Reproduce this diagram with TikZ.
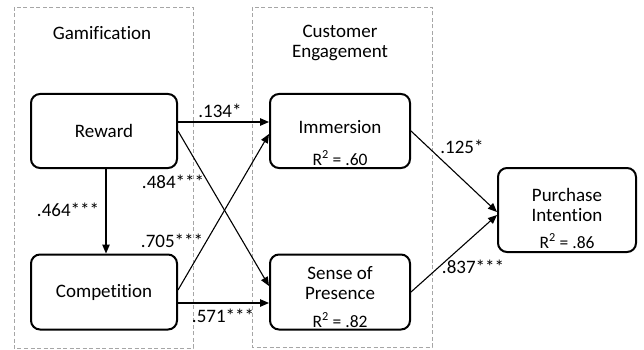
\documentclass[tikz,border=0pt]{standalone}
\usepackage{fontspec}
\setmainfont[Ligatures=NoCommon]{Carlito}
\usetikzlibrary{arrows.meta}

\begin{document}
\begin{tikzpicture}[x=1pt,y=-1pt,
    box/.style={draw,line width=2pt,rounded corners=9pt,inner sep=0pt},
    group/.style={draw=black!35,line width=0.9pt,dash pattern=on 4pt off 2.5pt},
    link/.style={-{Triangle[length=9pt,width=7.5pt]},line width=1.1pt},
    txt/.style={font=\fontsize{19}{20}\selectfont,inner sep=0pt,align=center},
    rsq/.style={font=\fontsize{17.5}{20}\selectfont,inner sep=0pt}]

      \useasboundingbox (0,0) rectangle (644,350);

      \draw[group] (14,7) rectangle (193,348);
      \draw[group] (252,7) rectangle (432,347);
      \node[txt] (gam) at (102,33) {Gamification};
      \node[txt] (eng) at (340,43) {Customer\\Engagement};

      \node[box,txt,minimum width=146pt,minimum height=74pt] (rew) at (104,131) {Reward};
      \node[box,txt,minimum width=146pt,minimum height=75pt] (comp) at (104,292) {Competition};

      \node[box,minimum width=140pt,minimum height=74pt] (imm) at (340,131) {};
      \node[txt] (immtxt) at (340,127) {Immersion};
      \node[rsq] (immrsq) at (340,158) {R\textsuperscript{2} = .60};

      \node[box,minimum width=140pt,minimum height=75pt] (pres) at (340,292) {};
      \node[txt] (prestxt) at (340,283) {Sense of\\Presence};
      \node[rsq] (presrsq) at (340,320) {R\textsuperscript{2} = .82};

      \node[box,minimum width=138pt,minimum height=84pt] (pi) at (567,210) {};
      \node[txt] (pitxt) at (567,205) {Purchase\\Intention};
      \node[rsq] (pirsq) at (567,241) {R\textsuperscript{2} = .86};

      \draw[link] ([yshift=9pt]rew.east) -- ([yshift=9pt]imm.west);
      \draw[link] (rew.east) -- ([yshift=6pt]pres.west);
      \draw[link] ([yshift=2pt]comp.east) -- ([yshift=-3pt]imm.west);
      \draw[link] ([yshift=-11pt]comp.east) -- ([yshift=-11pt]pres.west);
      \draw[link] ([xshift=2pt]rew.south) -- ([xshift=2pt]comp.north);
      \draw[link] (imm.east) -- ([yshift=-2pt]pi.west);
      \draw[link] (pres.east) -- ([yshift=-5pt]pi.west);

      \node[txt] (l1) at (220,111) {.134*};
      \node[txt] (l2) at (173,182) {.484***};
      \node[txt] (l3) at (68,210) {.464***};
      \node[txt] (l4) at (172,241) {.705***};
      \node[txt] (l5) at (223,316) {.571***};
      \node[txt] (l6) at (462,147) {.125*};
      \node[txt] (l7) at (473,267) {.837***};

    \end{tikzpicture}
\end{document}
